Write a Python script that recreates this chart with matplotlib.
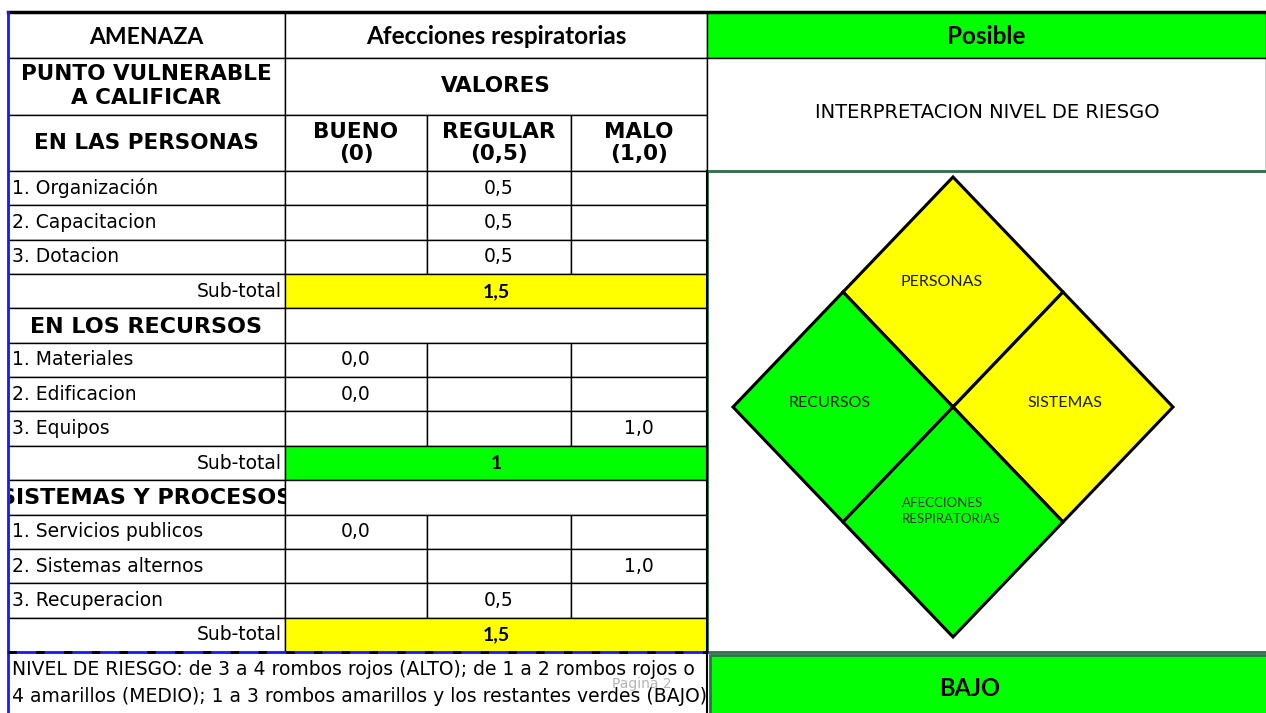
import numpy as np
import matplotlib.pyplot as plt
from matplotlib.patches import Rectangle, Polygon

# datos de la hoja
amenaza = "Afecciones respiratorias"
prob_amenaza = "Posible"
columnas = ["BUENO\n(0)", "REGULAR\n(0,5)", "MALO\n(1,0)"]
grupos = ["EN LAS PERSONAS", "EN LOS RECURSOS", "SISTEMAS Y PROCESOS"]
items_personas = ["1. Organización", "2. Capacitacion", "3. Dotacion"]
items_recursos = ["1. Materiales", "2. Edificacion", "3. Equipos"]
items_sistemas = ["1. Servicios publicos", "2. Sistemas alternos", "3. Recuperacion"]
valores_personas = [0.5, 0.5, 0.5]
valores_recursos = [0.0, 0.0, 1.0]
valores_sistemas = [0.0, 1.0, 0.5]
subtotales = [1.5, 1, 1.5]
rombos = ["PERSONAS", "RECURSOS", "SISTEMAS", "AFECCIONES\nRESPIRATORIAS"]
nivel = "BAJO"
nota = ("NIVEL DE RIESGO: de 3 a 4 rombos rojos (ALTO); de 1 a 2 rombos rojos o\n"
        "4 amarillos (MEDIO); 1 a 3 rombos amarillos y los restantes verdes (BAJO)")

AMARILLO = "#ffff00"
VERDE = "#00ff00"
VERDE_BORDE = "#2f6f4a"


def coma(v, dec=1):
    return f"{v:.{dec}f}".replace(".", ",")


def color_sub(v):
    return VERDE if v <= 1 else AMARILLO


fig = plt.figure(figsize=(12.66, 7.13), dpi=100)
ax = fig.add_axes([0, 0, 1, 1])
ax.set_xlim(0, 1266)
ax.set_ylim(713, 0)
ax.axis("off")

# columnas (pixeles)
xs = [8, 285, 427, 571, 707, 1266]
xc = [(xs[i] + xs[i + 1]) / 2 for i in range(4)]

fn = "DejaVu Sans"
fc = "Lato"
tn = 13.5   # texto normal
tb = 15.5   # texto negrita de encabezados


def celda(x0, y0, x1, y1, fill="white", ec="black", lw=1.0):
    ax.add_patch(Rectangle((x0, y0), x1 - x0, y1 - y0, facecolor=fill,
                           edgecolor=ec, lw=lw))


# encabezados
celda(xs[0], 12, xs[1], 58)
celda(xs[1], 12, xs[4], 58)
celda(xs[4], 12, xs[5], 58, VERDE)
ax.text(xc[0], 37, "AMENAZA", ha="center", va="center", family=fc,
        weight="bold", fontsize=16.5)
ax.text((xs[1] + xs[4]) / 2, 37, amenaza, ha="center", va="center",
        family=fc, weight="bold", fontsize=17.5)
ax.text((xs[4] + xs[5]) / 2, 37, prob_amenaza, ha="center", va="center",
        family=fc, weight="bold", fontsize=17.5)

celda(xs[0], 58, xs[1], 115)
celda(xs[1], 58, xs[4], 115)
ax.text(xc[0], 86, "PUNTO VULNERABLE\nA CALIFICAR", ha="center", va="center",
        family=fn, weight="bold", fontsize=tb, linespacing=1.2)
ax.text((xs[1] + xs[4]) / 2, 86, "VALORES", ha="center", va="center",
        family=fn, weight="bold", fontsize=tb)

celda(xs[0], 115, xs[1], 171)
ax.text(xc[0], 143, grupos[0], ha="center", va="center", family=fn,
        weight="bold", fontsize=tb)
for i, c in enumerate(columnas):
    celda(xs[i + 1], 115, xs[i + 2], 171)
    ax.text(xc[i + 1], 143, c, ha="center", va="center", family=fn,
            weight="bold", fontsize=tb, linespacing=1.15)

# panel derecho
celda(xs[4], 58, xs[5], 171)
ax.text(815, 113, "INTERPRETACION NIVEL DE RIESGO", ha="left", va="center",
        family=fn, fontsize=14)

# filas de datos
h = (652 - 171) / 14
y = 171
bloques = [(items_personas, valores_personas), (items_recursos, valores_recursos),
           (items_sistemas, valores_sistemas)]
for g, (items, vals) in enumerate(bloques):
    if g > 0:
        celda(xs[0], y, xs[1], y + h)
        celda(xs[1], y, xs[4], y + h)
        t = ax.text(xc[0], y + h / 2 + 1, grupos[g], ha="center", va="center",
                    family=fn, weight="bold", fontsize=tb + 0.5, clip_on=True)
        t.set_clip_path(Rectangle((xs[0] + 2, y), xs[1] - xs[0] - 2, h,
                                  transform=ax.transData))
        y += h
    for it, v in zip(items, vals):
        for k in range(4):
            celda(xs[k], y, xs[k + 1], y + h)
        ax.text(12, y + h / 2, it, ha="left", va="center", family=fn,
                fontsize=tn)
        col = int(round(v * 2))
        ax.text(xc[col + 1], y + h / 2, coma(v), ha="center", va="center",
                family=fn, fontsize=tn)
        y += h
    celda(xs[0], y, xs[1], y + h)
    celda(xs[1], y, xs[4], y + h, color_sub(subtotales[g]))
    ax.text(282, y + h / 2, "Sub-total", ha="right", va="center", family=fn,
            fontsize=tn)
    s = subtotales[g]
    ax.text((xs[1] + xs[4]) / 2, y + h / 2, coma(s) if s % 1 else str(int(s)),
            ha="center", va="center", family=fc, weight="bold", fontsize=14)
    y += h

# nota inferior
ax.text(12, 683, nota, ha="left", va="center", family=fn, fontsize=tn,
        linespacing=1.55)
ax.text(642, 684, "Pagina 2", ha="center", va="center", family=fn,
        fontsize=10, color="#b4b4b4")

# cuadro de rombos
celda(xs[4], 171, xs[5] + 5, 652, "none", VERDE_BORDE, 2)
cx, cy, a, b = 953, 407, 110, 115
pos = [(cx, cy - b), (cx - a, cy), (cx + a, cy), (cx, cy + b)]
colores = [color_sub(subtotales[0]), color_sub(subtotales[1]),
           color_sub(subtotales[2]), VERDE if prob_amenaza == "Posible" else AMARILLO]
for (px, py), col in zip(pos, colores):
    ax.add_patch(Polygon([(px, py - b), (px + a, py), (px, py + b), (px - a, py)],
                         closed=True, facecolor=col, edgecolor="black", lw=2.2))
ax.text(942, 282, rombos[0], ha="center", va="center", family=fc, fontsize=11.5,
        color="#1a1a1a")
ax.text(829, 403, rombos[1], ha="center", va="center", family=fc, fontsize=11.5,
        color="#1a1a1a")
ax.text(1065, 403, rombos[2], ha="center", va="center", family=fc, fontsize=11.5,
        color="#1a1a1a")
ax.text(902, 511, rombos[3], ha="left", va="center", family=fc, fontsize=9.5,
        linespacing=1.4, color="#333333")

# nivel de riesgo
celda(710, 655, 1270, 716, VERDE, VERDE_BORDE, 2)
ax.text(970, 688, nivel, ha="center", va="center", family=fc, weight="bold",
        fontsize=17)

# bordes
ax.plot([8, 1266], [12, 12], color="black", lw=2.5)
ax.plot([8, 8], [12, 713], color="#1a1aff", lw=2)
ax.plot([8, 707], [652, 652], color="#1a1aff", lw=2)
ax.plot([8, 707], [652, 652], color="black", lw=2, dashes=(3, 7))
ax.plot([707, 707], [171, 713], color="black", lw=1.5)

plt.savefig("out.png", dpi=100)
